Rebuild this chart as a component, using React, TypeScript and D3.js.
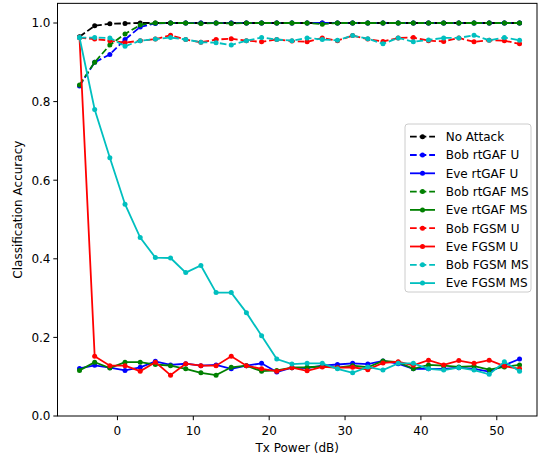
import React from "react";
import * as d3 from "d3";

// Tx power in dB, -5 .. 53 step 2
const txPower = [-5, -3, -1, 1, 3, 5, 7, 9, 11, 13, 15, 17, 19, 21, 23, 25, 27, 29, 31, 33, 35, 37, 39, 41, 43, 45, 47, 49, 51, 53];

const noAttack = [0.965, 0.993, 0.998, 0.999, 1, 1, 1, 1, 1, 1, 1, 1, 1, 1, 1, 1, 1, 1, 1, 1, 1, 1, 1, 1, 1, 1, 1, 1, 1, 1];
const bobRtgafU = [0.84, 0.9, 0.92, 0.958, 0.99, 0.999, 1, 1, 1, 1, 1, 1, 1, 1, 1, 1, 1, 1, 1, 1, 1, 1, 1, 1, 1, 1, 1, 1, 1, 1];
const eveRtgafU = [0.121, 0.129, 0.123, 0.116, 0.124, 0.139, 0.13, 0.133, 0.128, 0.13, 0.12, 0.128, 0.134, 0.112, 0.123, 0.122, 0.128, 0.131, 0.134, 0.132, 0.14, 0.133, 0.12, 0.12, 0.12, 0.123, 0.12, 0.113, 0.129, 0.145];
const bobRtgafMS = [0.842, 0.9, 0.944, 0.972, 0.995, 1, 1, 1, 0.999, 1, 0.999, 1, 1, 1, 1, 1, 0.997, 1, 1, 1, 1, 1, 1, 1, 1, 1, 1, 1, 1, 1];
const eveRtgafMS = [0.116, 0.137, 0.122, 0.137, 0.137, 0.131, 0.128, 0.12, 0.11, 0.104, 0.124, 0.128, 0.114, 0.116, 0.123, 0.124, 0.126, 0.123, 0.128, 0.124, 0.14, 0.137, 0.12, 0.13, 0.128, 0.125, 0.127, 0.118, 0.125, 0.13];
const bobFgsmU = [0.963, 0.959, 0.955, 0.95, 0.955, 0.959, 0.969, 0.958, 0.951, 0.958, 0.96, 0.955, 0.952, 0.958, 0.954, 0.952, 0.962, 0.955, 0.968, 0.959, 0.953, 0.962, 0.963, 0.955, 0.953, 0.962, 0.952, 0.956, 0.955, 0.947];
const eveFgsmU = [0.963, 0.152, 0.128, 0.128, 0.114, 0.137, 0.104, 0.133, 0.128, 0.128, 0.152, 0.128, 0.12, 0.114, 0.123, 0.115, 0.125, 0.123, 0.124, 0.118, 0.135, 0.138, 0.129, 0.142, 0.13, 0.141, 0.134, 0.142, 0.127, 0.12];
const bobFgsmMS = [0.963, 0.963, 0.962, 0.941, 0.955, 0.959, 0.963, 0.958, 0.951, 0.95, 0.944, 0.955, 0.963, 0.958, 0.955, 0.962, 0.958, 0.956, 0.968, 0.96, 0.947, 0.962, 0.952, 0.957, 0.962, 0.962, 0.969, 0.956, 0.963, 0.956];
const eveFgsmMS = [0.963, 0.78, 0.657, 0.539, 0.454, 0.403, 0.402, 0.365, 0.383, 0.314, 0.314, 0.263, 0.204, 0.145, 0.132, 0.134, 0.134, 0.12, 0.11, 0.125, 0.117, 0.134, 0.134, 0.12, 0.117, 0.123, 0.117, 0.106, 0.138, 0.114];

const xTicks = [0, 10, 20, 30, 40, 50];
const yTicks = [0, 0.2, 0.4, 0.6, 0.8, 1.0];

const series = [
  { name: "No Attack", values: noAttack, color: "#000000", dashed: true },
  { name: "Bob rtGAF U", values: bobRtgafU, color: "#0000ff", dashed: true },
  { name: "Eve rtGAF U", values: eveRtgafU, color: "#0000ff", dashed: false },
  { name: "Bob rtGAF MS", values: bobRtgafMS, color: "#008000", dashed: true },
  { name: "Eve rtGAF MS", values: eveRtgafMS, color: "#008000", dashed: false },
  { name: "Bob FGSM U", values: bobFgsmU, color: "#ff0000", dashed: true },
  { name: "Eve FGSM U", values: eveFgsmU, color: "#ff0000", dashed: false },
  { name: "Bob FGSM MS", values: bobFgsmMS, color: "#00bfbf", dashed: true },
  { name: "Eve FGSM MS", values: eveFgsmMS, color: "#00bfbf", dashed: false },
];

const W = 538;
const H = 459;
const left = 57.5;
const right = 537;
const top = 3.35;
const bottom = 416;
const font = "DejaVu Sans, sans-serif";

export default function App() {
  const x = d3.scaleLinear().domain([-7.9, 55.3]).range([left, right]);
  const y = d3.scaleLinear().domain([0, 1.05]).range([bottom, top]);
  const line = d3
    .line<number>()
    .x((d, i) => x(txPower[i]))
    .y(d => y(d));

  const legX = 405;
  const legY = 124;
  const rowH = 18.3;

  return (
    <svg width={W} height={H} style={{ position: "absolute", left: 0, top: 0, background: "#fff" }} fontFamily={font}>
      <rect x={0} y={0} width={W} height={H} fill="#fff" />
      {series.map(s => (
        <g key={s.name}>
          <path
            d={line(s.values) || ""}
            fill="none"
            stroke={s.color}
            strokeWidth={1.8}
            strokeDasharray={s.dashed ? "6.7,2.9" : undefined}
          />
          {s.values.map((v, i) => (
            <circle key={i} cx={x(txPower[i])} cy={y(v)} r={2.5} fill={s.color} />
          ))}
        </g>
      ))}
      {/* axes frame */}
      <rect x={left} y={top} width={right - left} height={bottom - top} fill="none" stroke="#000" strokeWidth={1} />
      {xTicks.map(t => (
        <g key={t}>
          <line x1={x(t)} x2={x(t)} y1={bottom} y2={bottom + 4.2} stroke="#000" strokeWidth={1} />
          <text x={x(t)} y={bottom + 19} fontSize={12} textAnchor="middle" fill="#000">{t}</text>
        </g>
      ))}
      {yTicks.map(t => (
        <g key={t}>
          <line x1={left - 4.2} x2={left} y1={y(t)} y2={y(t)} stroke="#000" strokeWidth={1} />
          <text x={left - 7} y={y(t) + 4.3} fontSize={12} textAnchor="end" fill="#000">{t.toFixed(1)}</text>
        </g>
      ))}
      <text x={(left + right) / 2} y={452} fontSize={12} textAnchor="middle" fill="#000">Tx Power (dB)</text>
      <text transform={`translate(22 ${(top + bottom) / 2}) rotate(-90)`} fontSize={12} textAnchor="middle" fill="#000">
        Classification Accuracy
      </text>
      {/* legend */}
      <rect x={legX} y={legY} width={126} height={168} rx={3} fill="#fff" fillOpacity={0.8} stroke="#cccccc" strokeWidth={1} />
      {series.map((s, i) => {
        const cy = legY + 12.7 + i * rowH;
        return (
          <g key={s.name}>
            <line x1={410} x2={435} y1={cy} y2={cy} stroke={s.color} strokeWidth={1.8} strokeDasharray={s.dashed ? "6.7,2.9" : undefined} />
            <circle cx={422.5} cy={cy} r={2.5} fill={s.color} />
            <text x={445.7} y={cy + 4.3} fontSize={12} fill="#000">{s.name}</text>
          </g>
        );
      })}
    </svg>
  );
}
